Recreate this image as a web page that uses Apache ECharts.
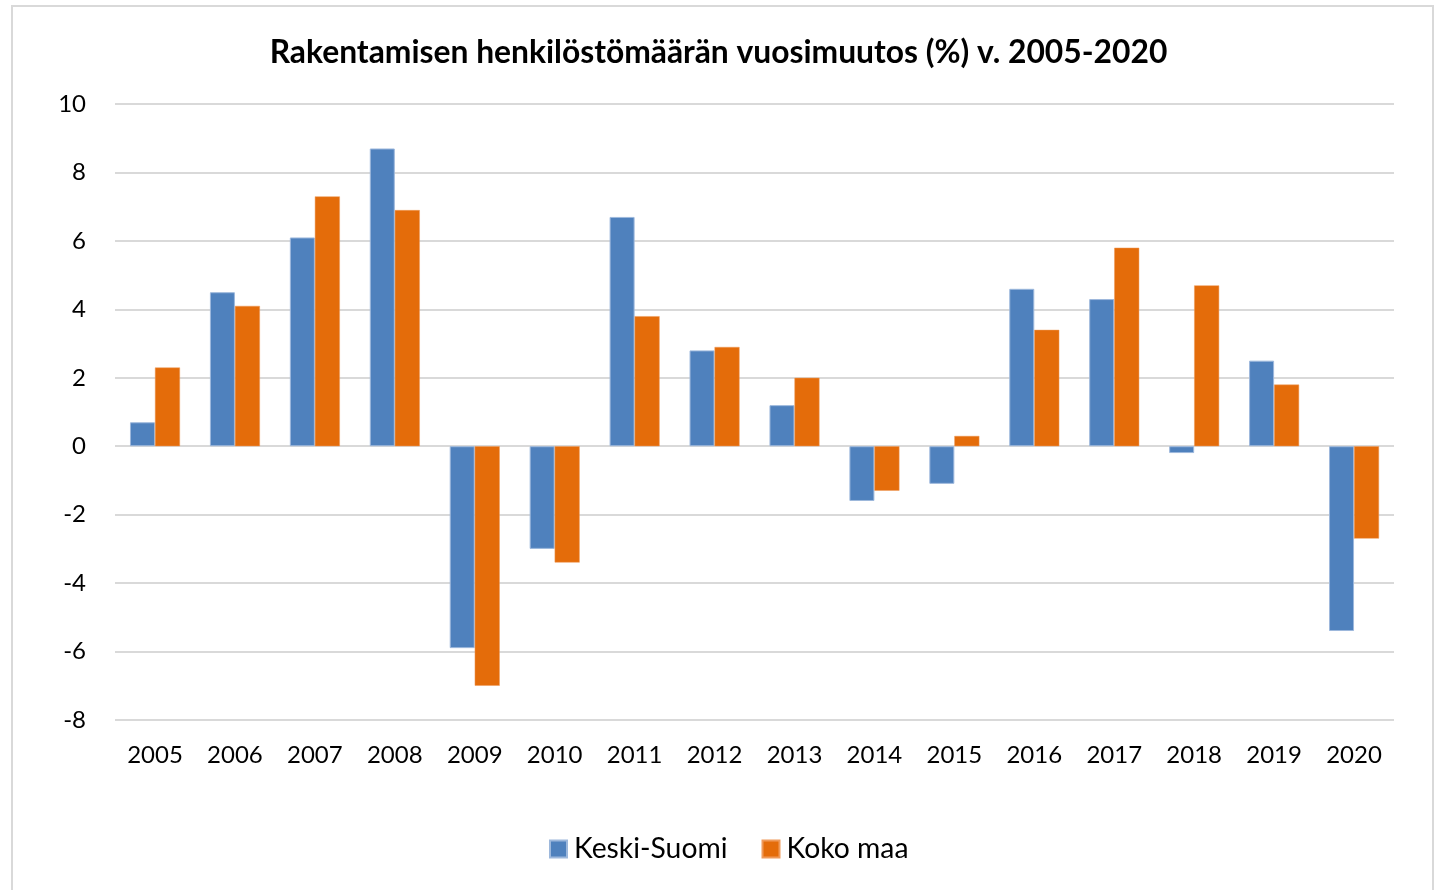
<!DOCTYPE html>
<html><head><meta charset="utf-8">
<script src="https://cdn.jsdelivr.net/npm/echarts@6/dist/echarts.min.js"></script>
<style>html,body{margin:0;padding:0;background:#fff}#c{width:1437px;height:890px}</style>
</head><body><div id="c"></div>
<script>
const years = ['2005','2006','2007','2008','2009','2010','2011','2012','2013','2014','2015','2016','2017','2018','2019','2020'];
const keskiSuomi = [0.7, 4.5, 6.1, 8.7, -5.9, -3.0, 6.7, 2.8, 1.2, -1.6, -1.1, 4.6, 4.3, -0.2, 2.5, -5.4];
const kokoMaa = [2.3, 4.1, 7.3, 6.9, -7.0, -3.4, 3.8, 2.9, 2.0, -1.3, 0.3, 3.4, 5.8, 4.7, 1.8, -2.7];
const yTicks = {min: -8, max: 10, interval: 2};
const titleText = 'Rakentamisen henkilöstömäärän vuosimuutos (%) v. 2005-2020';
const seriesNames = ['Keski-Suomi', 'Koko maa'];

const font = 'Lato, "Open Sans", sans-serif';
const chart = echarts.init(document.getElementById('c'), null, {renderer: 'canvas'});
chart.setOption({
  animation: false,
  backgroundColor: '#fff',
  graphic: [{type: 'rect', shape: {x: 12, y: 6, width: 1421, height: 900}, style: {fill: 'none', stroke: '#d9d9d9', lineWidth: 2}, silent: true, z: -1}],
  title: {text: titleText, left: 'center', top: 32, textStyle: {fontFamily: font, fontWeight: 'bold', fontSize: 31.8, color: '#000'}},
  legend: {bottom: 22, left: 544, itemWidth: 17, itemHeight: 17, itemGap: 34, icon: 'rect',
    textStyle: {fontFamily: font, fontSize: 28.3, color: '#000', padding: [0, 0, 0, 2]}, data: seriesNames},
  grid: {left: 115, right: 43, top: 104, bottom: 170, containLabel: false},
  xAxis: {type: 'category', data: years,
    axisLine: {show: false}, axisTick: {show: false},
    axisLabel: {fontFamily: font, fontSize: 24, color: '#000', margin: 23}},
  yAxis: {type: 'value', min: yTicks.min, max: yTicks.max, interval: yTicks.interval,
    axisLine: {show: false}, axisTick: {show: false},
    splitLine: {lineStyle: {color: '#d9d9d9', width: 2}},
    axisLabel: {fontFamily: font, fontSize: 24, color: '#000', margin: 29}},
  series: [
    {name: seriesNames[0], type: 'bar', data: keskiSuomi, barWidth: 25, barGap: '0%',
      itemStyle: {color: '#4F81BD', borderColor: '#9db8dc', borderWidth: 1}},
    {name: seriesNames[1], type: 'bar', data: kokoMaa, barWidth: 25, barGap: '0%',
      itemStyle: {color: '#E46C0A', borderColor: '#ef9a5a', borderWidth: 0.5}}
  ]
});
</script></body></html>
